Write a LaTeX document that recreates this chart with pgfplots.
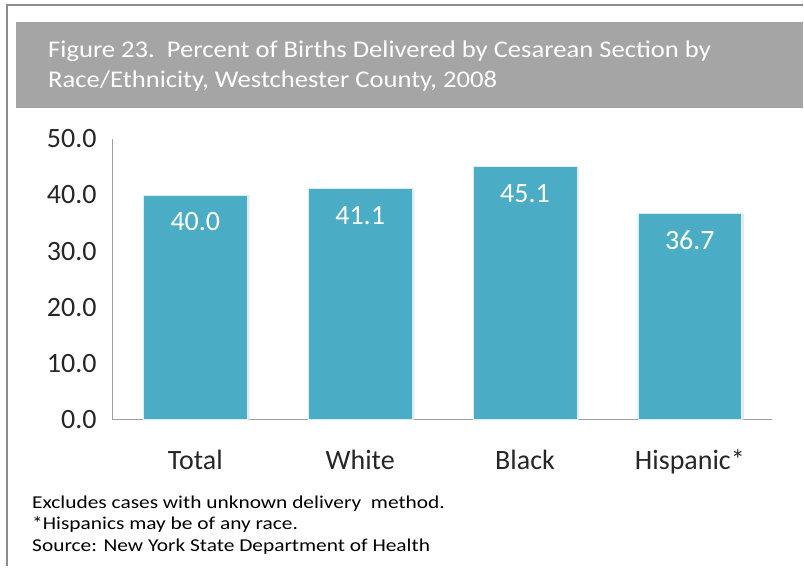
\documentclass[border=0pt]{standalone}
\usepackage{pgfplots}
\pgfplotsset{compat=1.18}
\usepackage{fontspec}
\setmainfont{Carlito}
\newfontfamily\titlefont[FakeStretch=1.11]{Carlito}
\newfontfamily\footfont[FakeStretch=1.18]{Carlito}
\definecolor{barblue}{HTML}{4BACC6}
\definecolor{banner}{HTML}{A5A5A5}
\definecolor{frame}{HTML}{8C8C8C}
\definecolor{axisgray}{HTML}{A0A0A0}
\definecolor{txt}{HTML}{262626}

\begin{document}
\begin{tikzpicture}
% page = 804x567 px at 0.75pt per px
\path (0,0) rectangle (603pt,425.25pt);
\draw[frame, line width=1.1pt] (5.25pt,0pt) -- (5.25pt,421.5pt) -- (603pt,421.5pt);
\fill[banner] (12pt,344.25pt) rectangle (603pt,408.75pt);
\node[anchor=base west, inner sep=0pt, text=white, font=\titlefont\fontsize{18}{20}\selectfont]
  at (36pt,382pt) {Figure 23.\ \ Percent of Births Delivered by Cesarean Section by};
\node[anchor=base west, inner sep=0pt, text=white, font=\titlefont\fontsize{18}{20}\selectfont]
  at (36pt,359.25pt) {Race/Ethnicity, Westchester County, 2008};

\begin{axis}[
  at={(84.75pt,110.25pt)}, anchor=south west,
  scale only axis, width=495pt, height=210.75pt,
  xmin=-0.5, xmax=3.5, ymin=0, ymax=50,
  axis x line*=bottom, axis y line*=left,
  axis line style={axisgray, line width=0.8pt},
  xtick={0,1,2,3},
  xticklabels={Total,White,Black,Hispanic*},
  x tick style={draw=none},
  extra x ticks={-0.5,0.5,1.5,2.5,3.5},
  extra x tick labels={},
  extra x tick style={tick style={draw=axisgray, line width=0.8pt}, major tick length=6pt, tick align=outside},
  xticklabel style={anchor=base, yshift=-37.5pt, font=\fontsize{21}{23}\selectfont, text=txt},
  ytick={0,10,20,30,40,50},
  y tick style={draw=none},
  yticklabel style={xshift=-8.75pt, font=\fontsize{21}{23}\selectfont, text=txt},
  /pgf/number format/assume math mode=true,
  /pgf/number format/.cd, fixed, fixed zerofill, precision=1, /pgfplots/.cd,
  nodes near coords,
  every node near coord/.append style={anchor=base, yshift=-27pt, text=white,
    font=\fontsize{21}{23}\selectfont},
  clip=false,
]
\addplot[ybar, bar width=79pt, fill=black!9, draw=none, bar shift=1.2pt, nodes near coords={}]
  coordinates {(0,40.0) (1,41.1) (2,45.1) (3,36.7)};
\addplot[ybar, bar width=78pt, fill=barblue, draw=white!80!barblue, line width=0.6pt]
  coordinates {(0,40.0) (1,41.1) (2,45.1) (3,36.7)};
\end{axis}

\begin{scope}[every node/.style={anchor=base west, inner sep=0pt, text=black, font=\footfont\fontsize{13.6}{15}\selectfont}]
\node at (24pt,43.5pt) {Excludes cases with unknown delivery\ \ method.};
\node at (24pt,27.75pt) {*Hispanics may be of any race.};
\node at (24pt,11.25pt) {Source: New York State Department of Health};
\end{scope}
\end{tikzpicture}
\end{document}
